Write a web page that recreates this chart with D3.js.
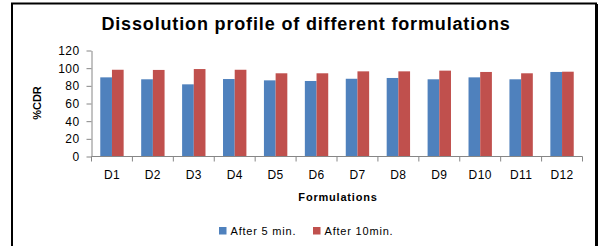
<!DOCTYPE html>
<html lang="en">
<head>
    <meta charset="UTF-8">
    <script src="https://d3js.org/d3.v7.min.js"></script>
    <title>Dissolution profile</title>
    <style>
        body { margin: 0; background: #fff; }
        svg { display: block; font-family: "Liberation Sans", Arial, sans-serif; }
        .axis path, .axis line { stroke: #868686; }
        .axis text { fill: #000; font-size: 12px; letter-spacing: 0.4px; }
    </style>
</head>
<body>
    <script>
        const categories = ["D1", "D2", "D3", "D4", "D5", "D6", "D7", "D8", "D9", "D10", "D11", "D12"];
        const after5 = [89.6, 87.4, 81.7, 87.7, 86.2, 85.5, 88.0, 88.9, 87.4, 89.6, 87.4, 95.7];
        const after10 = [98.2, 98.0, 99.0, 98.2, 94.2, 94.2, 96.4, 96.4, 97.2, 95.7, 94.2, 96.0];
        const seriesNames = ["After 5 min.", "After 10min."];
        const yTicks = [0, 20, 40, 60, 80, 100, 120];

        const width = 602;
        const height = 246;
        const margin = {top: 50.5, right: 19.5, bottom: 89.5, left: 91.5};
        const colors = ["#4F81BD", "#C0504D"];

        const svg = d3.select('body')
            .append('svg')
            .attr('width', width)
            .attr('height', height);

        // outer frame
        svg.append('rect')
            .attr('x', 12)
            .attr('y', 3.5)
            .attr('width', 584)
            .attr('height', 260)
            .attr('fill', 'none')
            .attr('stroke', '#000')
            .attr('stroke-width', 2);
        svg.append('line')
            .attr('x1', 597).attr('x2', 597)
            .attr('y1', 4).attr('y2', 246)
            .attr('stroke', '#000')
            .attr('stroke-width', 2);

        const x = d3.scaleBand()
            .domain(categories)
            .range([margin.left, width - margin.right]);

        const inner = d3.scaleBand()
            .domain([0, 1])
            .range([0, x.bandwidth()])
            .paddingOuter(0.75);

        const y = d3.scaleLinear()
            .domain([0, 120])
            .range([height - margin.bottom, margin.top]);

        const rows = categories.map((c, i) => ({cat: c, values: [after5[i], after10[i]]}));

        svg.append('g')
            .selectAll('g')
            .data(rows).enter()
            .append('g')
            .attr('transform', d => `translate(${x(d.cat)},0)`)
            .selectAll('rect')
            .data(d => d.values.map((v, k) => ({v, k}))).enter()
            .append('rect')
            .attr('x', d => inner(d.k))
            .attr('y', d => y(d.v))
            .attr('width', inner.bandwidth())
            .attr('height', d => y(0) - y(d.v))
            .attr('fill', d => colors[d.k]);

        // y axis
        svg.append('g')
            .attr('class', 'axis')
            .attr('transform', `translate(${margin.left},0)`)
            .call(d3.axisLeft(y).tickValues(yTicks).tickSize(5).tickSizeOuter(0).tickPadding(7));

        // x axis with ticks at category boundaries
        const xAxis = svg.append('g')
            .attr('class', 'axis')
            .attr('transform', `translate(0,${y(0)})`);
        xAxis.append('line')
            .attr('x1', margin.left).attr('x2', width - margin.right)
            .attr('y1', 0).attr('y2', 0);
        xAxis.selectAll('.bt')
            .data(categories.concat(['end'])).enter()
            .append('line')
            .attr('class', 'bt')
            .attr('x1', (d, i) => margin.left + i * x.step())
            .attr('x2', (d, i) => margin.left + i * x.step())
            .attr('y1', 0).attr('y2', 5);
        xAxis.selectAll('text')
            .data(categories).enter()
            .append('text')
            .attr('x', d => x(d) + x.bandwidth() / 2)
            .attr('y', 22)
            .attr('text-anchor', 'middle')
            .text(d => d);

        // title
        svg.append('text')
            .attr('x', 306)
            .attr('y', 30)
            .attr('text-anchor', 'middle')
            .attr('font-size', 18)
            .attr('letter-spacing', 0.85)
            .attr('font-weight', 'bold')
            .text('Dissolution profile of different formulations');

        svg.append('text')
            .attr('transform', 'translate(41,103) rotate(-90)')
            .attr('text-anchor', 'middle')
            .attr('font-size', 11)
            .attr('font-weight', 'bold')
            .text('%CDR');

        svg.append('text')
            .attr('x', 338)
            .attr('y', 201)
            .attr('text-anchor', 'middle')
            .attr('font-size', 11)
            .attr('letter-spacing', 0.8)
            .attr('font-weight', 'bold')
            .text('Formulations');

        // legend
        const legendX = [219, 313];
        const legend = svg.selectAll('.legend')
            .data(seriesNames).enter()
            .append('g')
            .attr('class', 'legend')
            .attr('transform', (d, i) => `translate(${legendX[i]},227)`);
        legend.append('rect')
            .attr('width', 7.5)
            .attr('height', 7.5)
            .attr('fill', (d, i) => colors[i]);
        legend.append('text')
            .attr('x', 11.5)
            .attr('y', 7.5)
            .attr('font-size', 11)
            .attr('letter-spacing', 0.8)
            .text(d => d);
    </script>
</body>
</html>
